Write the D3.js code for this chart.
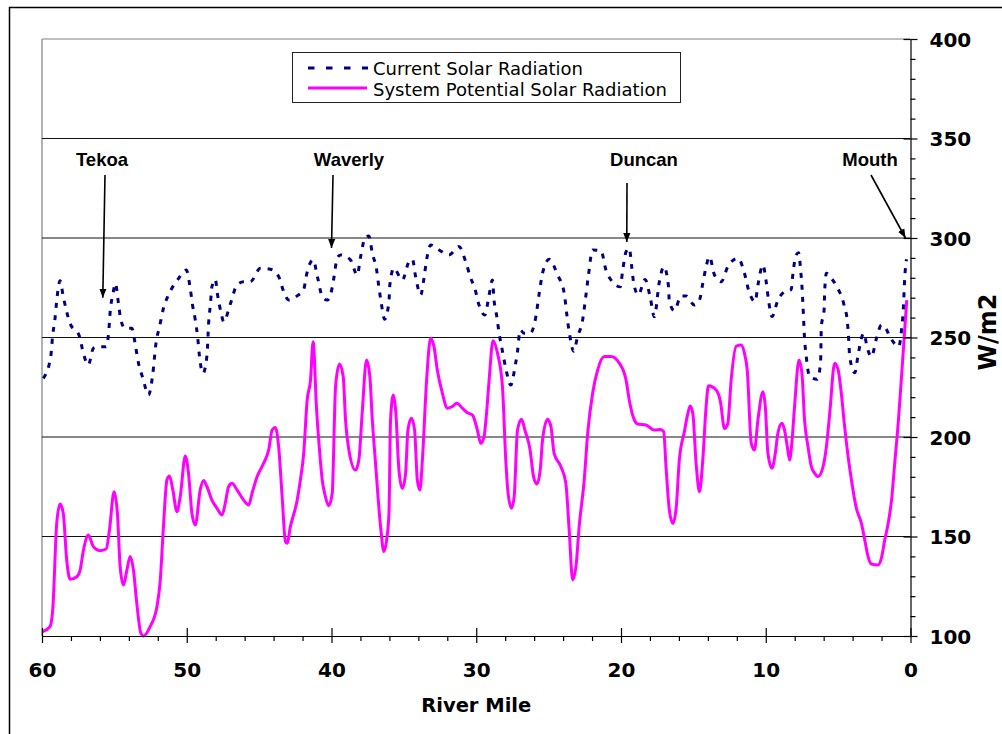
<!DOCTYPE html>
<html>
<head>
<meta charset="utf-8">
<script src="https://cdn.jsdelivr.net/npm/d3@7"></script>
<style>
  html, body { margin: 0; padding: 0; background: #fff; }
  svg { display: block; }
</style>
</head>
<body>
<svg id="chart" width="1002" height="734"></svg>
<script>
// ---------- DATA ----------
const seriesNames = ["Current Solar Radiation", "System Potential Solar Radiation"];

const currentMiles = [59.91,59.40,59.26,59.10,58.98,58.75,58.53,58.06,57.42,57.14,
56.80,56.45,56.10,55.57,55.38,55.29,55.11,54.93,54.72,54.55,
54.26,53.79,53.54,53.34,53.03,52.64,52.37,52.11,51.88,51.61,
51.26,50.61,50.03,49.76,49.60,49.41,49.25,49.13,48.88,48.60,
48.49,48.37,48.26,48.03,47.87,47.63,47.45,46.99,46.53,46.07,
45.61,44.91,44.22,43.65,43.30,42.95,42.37,41.92,41.73,41.27,
40.95,40.64,40.30,40.07,39.84,39.61,39.38,38.69,38.22,37.99,
37.65,37.42,37.18,36.89,36.73,36.56,36.33,36.03,35.97,35.69,
35.11,34.65,34.41,34.19,33.84,33.61,33.43,33.15,32.57,31.88,
31.19,30.73,30.38,30.10,29.81,29.41,29.11,28.88,28.77,28.58,
28.42,28.19,27.96,27.61,27.32,27.15,26.97,26.69,26.28,25.88,
25.65,25.42,24.96,24.38,23.92,23.74,23.58,23.27,23.00,22.65,
22.42,22.26,21.96,21.38,21.04,20.69,20.05,19.88,19.65,19.43,
19.26,19.12,18.80,18.34,17.97,17.70,17.35,17.04,16.73,16.66,
16.31,15.85,15.50,14.93,14.58,14.35,14.12,13.89,13.54,13.08,
12.62,11.92,11.47,11.19,10.73,10.54,10.19,9.97,9.81,9.57,
9.16,8.70,8.24,8.12,7.89,7.73,7.59,7.49,7.43,7.32,
7.20,6.97,6.44,6.21,6.16,5.97,5.93,5.81,5.47,5.12,
4.59,4.36,4.27,4.20,3.85,3.62,3.39,3.23,2.98,2.70,
2.35,2.01,1.78,1.36,0.81,0.62,0.50,0.40,0.28];

const currentValues = [229.5,240.3,251.3,259.6,268.8,278.5,270.5,257.1,250.8,242,
236.2,244.6,245.4,245.4,253.8,263,271.4,277.2,267.2,258.8,
254.6,254.6,245.7,237.3,229.5,221.1,230.3,247.9,255.4,264.7,
271.4,279.2,283.9,274.7,266.3,258.8,250.4,241.2,232,241.2,
257.1,266.3,275.5,279.2,271.4,262.5,257.9,266.8,276.4,278,
278,284.8,284.3,280.6,273,268.8,270.9,274.1,281.4,289,
279.8,270.5,268.8,271.4,279.8,289.8,291.5,289,281.4,290.6,
300.6,301,292.3,284.3,275.5,267.2,259.2,268,276.4,284.8,
278.9,288.1,289.3,280.6,271.4,279.8,289,296.5,294,291.5,
295.7,288.1,279.8,274.7,266.3,261.3,271.4,278.9,268.8,260.5,
252.1,243.1,234.5,226.1,235.4,242.9,253.8,252.1,252.1,260.5,
272.2,282.3,289.3,281.4,272.2,261.3,252.9,243.1,250.4,258.8,
271.4,280.6,294,293.6,283.9,278.9,275.5,283.9,293.1,294.8,
285.6,277.2,271.4,279.2,269.7,260.5,278,285.6,276.4,268,
263.5,270.9,270.9,266.3,268.8,277.2,285.6,290.6,281.4,278,
285.6,289.8,282.3,273.9,268,276.4,286.4,278,268.8,260.5,
268.8,273,274.1,282.3,291.5,292.6,283.9,274.7,266.3,249.6,
240.3,230.3,229,237.9,255.4,263.8,273,282.3,279.8,275.9,
266.3,257.9,249.1,240.3,232.3,241.2,249.6,252.1,244.6,240.3,
249.6,256.3,255.4,249.6,245.4,253.8,263.8,279.8,289.3];

const potentialMiles = [59.95,59.45,59.26,58.98,58.75,58.53,58.29,58.06,57.60,57.37,
57.14,56.80,56.45,55.99,55.57,55.34,55.02,54.79,54.60,54.37,
54.14,53.91,53.68,53.45,53.17,52.99,52.53,52.06,51.83,51.61,
51.37,51.19,50.96,50.68,50.45,50.10,49.88,49.64,49.41,49.07,
48.84,48.60,48.26,47.91,47.56,47.34,47.11,46.87,46.53,46.07,
45.72,45.49,45.14,44.69,44.34,44.10,43.88,43.65,43.41,43.18,
43.07,42.84,42.37,42.15,41.92,41.68,41.45,41.27,41.04,40.81,
40.64,40.42,40.19,39.95,39.72,39.45,39.19,39.03,38.80,38.34,
38.11,37.88,37.58,37.35,37.18,36.96,36.61,36.38,36.19,36.03,
35.92,35.73,35.57,35.34,35.11,34.88,34.72,34.48,34.26,34.07,
33.89,33.72,33.43,33.15,32.92,32.69,32.34,31.99,31.65,31.35,
30.96,30.61,30.26,29.92,29.69,29.46,29.29,29.11,28.84,28.53,
28.19,27.96,27.80,27.56,27.38,27.15,26.87,26.64,26.28,26.04,
25.81,25.58,25.42,25.07,24.84,24.62,24.15,23.81,23.58,23.34,
23.11,22.89,22.54,22.30,21.96,21.61,21.16,20.69,20.12,19.65,
19.43,19.08,18.84,18.27,17.70,17.28,17.05,16.89,16.66,16.42,
16.19,15.97,15.62,15.38,15.22,15.04,14.81,14.58,14.35,14.12,
13.96,13.43,13.13,12.85,12.62,12.39,12.04,11.70,11.47,11.28,
11.00,10.78,10.54,10.19,10.03,9.85,9.57,9.34,9.16,8.88,
8.70,8.51,8.35,8.19,8.01,7.70,7.50,7.32,7.08,6.85,
6.62,6.39,6.04,5.81,5.58,5.24,5.00,4.78,4.55,4.31,
4.08,3.74,3.39,3.16,2.93,2.70,2.24,2.01,1.78,1.54,
1.31,1.09,0.85,0.62,0.40,0.26];

const potentialValues = [102.2,104.7,113,156.8,166.3,161.6,138,128.5,129.8,133,
143,150.7,144.9,142.9,143.7,153.3,172.5,161.6,134.8,125.6,
133,139.9,133,116.4,101.4,100,104.7,114.7,128,155,
178.4,180.4,173.4,162.5,170,190.5,181.8,161.6,155.8,173.4,
178.1,175,168.3,164.2,160.8,166.7,175,176.7,173.4,168.3,
165.8,171.7,180,186.8,193.5,203.5,204.8,195.1,170,147.4,
146.6,155,168.3,178.4,191.8,218.6,228.6,247.9,215,191.8,
178.4,170,165.4,171.7,225.3,236.7,230.3,208.6,193.5,183.4,
188.5,212,238.7,230.3,208.6,187,155,142.4,148.3,161.6,
208.6,221.1,213.6,183.4,174.2,181.8,203.5,209.4,203.5,178.4,
173.4,188.5,228.6,249.6,245.4,233.7,222,214.5,215.3,217,
214.5,212.2,211,203.5,196.8,200.2,211.9,228.6,248.4,242,
225.3,188.5,171.7,164.2,170,203.5,208.9,203.5,193.5,180,
176.4,183.4,198.5,208.9,205.2,191.8,185.1,176.7,153.3,128.2,
135,155,178.4,201.9,222,233.7,240.4,240.4,237.1,228.6,
218.6,208.6,206.5,206,203.5,203.8,202.7,185.1,163.3,156.6,
164.2,188.5,202.7,211.9,215.6,211.9,186.8,172.5,188.5,215.3,
225.7,223.6,217.8,204.3,206.8,228.6,245.6,246.2,242,233.7,
196.8,193.5,208.6,222.8,215.3,191.8,184.3,191.8,201.9,206.9,
203.5,195.1,188.5,197.7,215.3,238.7,232,208.6,195.1,185.1,
181.8,180.1,185.1,195.1,211.9,237,233.7,222,205.2,190.2,
178.4,164.2,156.6,148.3,139.9,136.2,135.7,139.1,148.3,156.6,
168.3,186.8,206.9,230.3,253.8,268.8];

const xMajorTicks = [60, 50, 40, 30, 20, 10, 0];
const xMinorTicks = [58,56,54,52,48,46,44,42,38,36,34,32,28,26,24,22,18,16,14,12,8,6,4,2];
const yMajorTicks = [100, 150, 200, 250, 300, 350, 400];
const yMinorTicks = [110,120,130,140,160,170,180,190,210,220,230,240,260,270,280,290,310,320,330,340,360,370,380,390];
const gridValues = [150, 200, 250, 300, 350];

const placeNames = ["Tekoa", "Waverly", "Duncan", "Mouth"];
const placeMiles = [55.8, 40.0, 19.6, 0.3];
const placeValues = [270, 295, 298, 300];

const xTitle = "River Mile";
const yTitle = "W/m2";

// ---------- DRAW ----------
const svg = d3.select("#chart");
const L = 42, R = 910.5, T = 39, B = 636;
const x = d3.scaleLinear().domain([60, 0]).range([L, R]);
const y = d3.scaleLinear().domain([100, 400]).range([B, T]);

svg.append("rect").attr("width", 1002).attr("height", 734).attr("fill", "#fff");

// outer frame
svg.append("rect").attr("x", 9.5).attr("y", 7.5).attr("width", 1010).attr("height", 760)
  .attr("fill", "none").attr("stroke", "#000").attr("stroke-width", 1.5);

// plot border (top, left)
svg.append("line").attr("x1", L).attr("x2", R).attr("y1", T).attr("y2", T)
  .attr("stroke", "#808080").attr("stroke-width", 1.2);
svg.append("line").attr("x1", L).attr("x2", L).attr("y1", T).attr("y2", B)
  .attr("stroke", "#808080").attr("stroke-width", 1.2);

// gridlines
svg.append("g").selectAll("line").data(gridValues).join("line")
  .attr("x1", L).attr("x2", R)
  .attr("y1", d => y(d)).attr("y2", d => y(d))
  .attr("stroke", "#111").attr("stroke-width", 1);

// defs
const defs = svg.append("defs");
defs.append("marker").attr("id", "arrow")
  .attr("viewBox", "0 0 10 10").attr("refX", 10).attr("refY", 5)
  .attr("markerUnits", "userSpaceOnUse")
  .attr("markerWidth", 9).attr("markerHeight", 9)
  .attr("orient", "auto")
  .append("path").attr("d", "M0,1 L10,5 L0,9 z").attr("fill", "#000");

// series
const currentData = d3.zip(currentMiles, currentValues);
const potentialData = d3.zip(potentialMiles, potentialValues);
const line = d3.line().x(d => x(d[0])).y(d => y(d[1])).curve(d3.curveMonotoneX);

svg.append("path").datum(potentialData)
  .attr("d", line).attr("fill", "none")
  .attr("stroke", "#FF00FF").attr("stroke-width", 3).attr("stroke-linejoin", "round");

svg.append("path").datum(currentData)
  .attr("d", line).attr("fill", "none")
  .attr("stroke", "#000080").attr("stroke-width", 3)
  .attr("stroke-dasharray", "5,7");

// X axis
const fontBold = "'DejaVu Sans', Verdana, sans-serif";
const gx = svg.append("g").attr("transform", `translate(0,${B})`);
gx.append("g").call(d3.axisBottom(x).tickValues(xMinorTicks).tickSize(5).tickFormat(""))
  .call(g => g.select(".domain").remove());
gx.append("g").call(d3.axisTop(x).tickValues(xMajorTicks).tickSize(8).tickFormat(""))
  .call(g => g.select(".domain").remove());
const gxm = gx.append("g").call(d3.axisBottom(x).tickValues(xMajorTicks).tickSize(7).tickSizeOuter(0).tickFormat(d3.format("d")));
gxm.select(".domain").attr("stroke", "#000").attr("stroke-width", 1.2);
gx.selectAll(".tick line").attr("stroke", "#000").attr("stroke-width", 1.2);
gxm.selectAll("text").attr("y", 41).attr("dy", 0)
  .attr("font-family", fontBold).attr("font-weight", "bold").attr("font-size", 20).attr("fill", "#000");

// Y axis (right)
const gy = svg.append("g").attr("transform", `translate(${R},0)`);
gy.append("g").call(d3.axisRight(y).tickValues(yMinorTicks).tickSize(5).tickFormat(""))
  .call(g => g.select(".domain").remove());
gy.append("g").call(d3.axisLeft(y).tickValues(yMajorTicks).tickSize(7).tickFormat(""))
  .call(g => g.select(".domain").remove());
const gym = gy.append("g").call(d3.axisRight(y).tickValues(yMajorTicks).tickSize(7).tickSizeOuter(0).tickFormat(d3.format("d")));
gym.select(".domain").attr("stroke", "#000").attr("stroke-width", 1.2);
gy.selectAll(".tick line").attr("stroke", "#000").attr("stroke-width", 1.2);
gym.selectAll("text").attr("x", 19).attr("dy", "0.36em")
  .attr("font-family", fontBold).attr("font-weight", "bold").attr("font-size", 20).attr("fill", "#000");

// axis titles
svg.append("text").attr("x", (L + R) / 2).attr("y", 712)
  .attr("text-anchor", "middle").attr("font-family", fontBold).attr("font-weight", "bold")
  .attr("font-size", 19.5).text(xTitle);
svg.append("text").attr("transform", `translate(996,332) rotate(-90)`)
  .attr("text-anchor", "middle").attr("font-family", fontBold).attr("font-weight", "bold")
  .attr("font-size", 24).text(yTitle);

// place labels and arrows
const labelFont = "'Liberation Sans', Arial, sans-serif";
const labelPos = [[102, 166], [349, 166], [644, 166], [870, 166]];
const arrowStart = [[105, 175], [333, 175], [627, 183], [871, 175]];
placeNames.forEach((name, i) => {
  svg.append("text").attr("x", labelPos[i][0]).attr("y", labelPos[i][1])
    .attr("text-anchor", "middle").attr("font-family", labelFont).attr("font-weight", "bold")
    .attr("font-size", 18.5).text(name);
  const tipX = i === 3 ? R - 5 : x(placeMiles[i]);
  svg.append("line")
    .attr("x1", arrowStart[i][0]).attr("y1", arrowStart[i][1])
    .attr("x2", tipX).attr("y2", y(placeValues[i]))
    .attr("stroke", "#000").attr("stroke-width", 1.6)
    .attr("marker-end", "url(#arrow)");
});

// legend
const lg = svg.append("g");
lg.append("rect").attr("x", 292.5).attr("y", 52.5).attr("width", 388).attr("height", 50)
  .attr("fill", "#fff").attr("stroke", "#222").attr("stroke-width", 1);
lg.append("line").attr("x1", 308).attr("x2", 368).attr("y1", 68).attr("y2", 68)
  .attr("stroke", "#000080").attr("stroke-width", 3).attr("stroke-dasharray", "6.5,11.5");
lg.append("line").attr("x1", 308).attr("x2", 367).attr("y1", 88).attr("y2", 88)
  .attr("stroke", "#FF00FF").attr("stroke-width", 3);
const legFont = "'DejaVu Sans Condensed', 'DejaVu Sans', sans-serif";
lg.append("text").attr("x", 373).attr("y", 75).attr("font-family", legFont)
  .attr("font-size", 17.5).attr("textLength", 210).attr("lengthAdjust", "spacingAndGlyphs")
  .text(seriesNames[0]);
lg.append("text").attr("x", 373).attr("y", 95.5).attr("font-family", legFont)
  .attr("font-size", 17.5).attr("textLength", 294).attr("lengthAdjust", "spacingAndGlyphs")
  .text(seriesNames[1]);
</script>
</body>
</html>
